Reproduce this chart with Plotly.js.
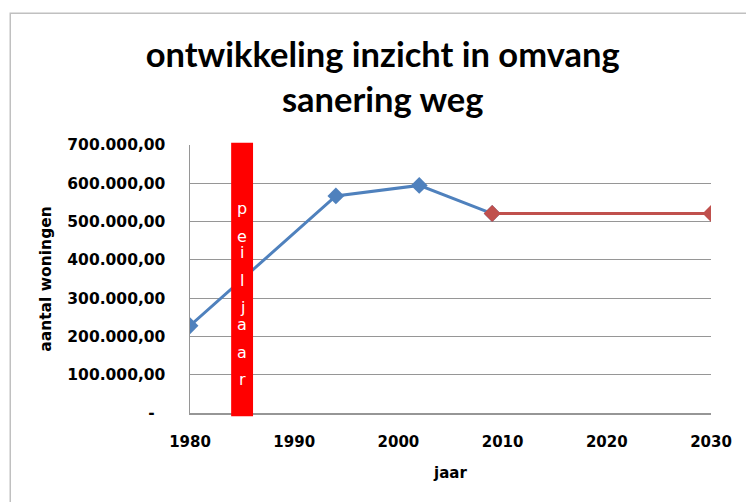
<!DOCTYPE html>
<html>
<head>
<meta charset="utf-8">
<script src="https://cdn.plot.ly/plotly-3.0.1.min.js"></script>
<style>
  body { margin: 0; background: #fff; }
  #chart { width: 746px; height: 502px; }
</style>
</head>
<body>
<div id="chart"></div>
<script>
// gemeten reeks (blauw) en prognose (rood)
var jarenGemeten = [1980, 1994, 2002, 2009];
var woningenGemeten = [228000, 567000, 594500, 521000];

var jarenPrognose = [2009, 2030];
var woningenPrognose = [521000, 521000];

var peiljaar = 1985;
var peilTekst = "peiljaar";

var yTicks = [0, 100000, 200000, 300000, 400000, 500000, 600000, 700000];
var yTickText = ["-\u00a0\u00a0", "100.000,00", "200.000,00", "300.000,00",
                 "400.000,00", "500.000,00", "600.000,00", "700.000,00"];

var gemeten = {
  x: jarenGemeten,
  y: woningenGemeten,
  type: "scatter",
  mode: "lines+markers",
  line: {color: "#4F81BD", width: 3},
  marker: {symbol: "diamond", size: 13, color: "#4F81BD"},
  hoverinfo: "x+y"
};

var prognose = {
  x: jarenPrognose,
  y: woningenPrognose,
  type: "scatter",
  mode: "lines+markers",
  line: {color: "#C0504D", width: 3},
  marker: {symbol: "diamond", size: 13, color: "#C0504D"},
  hoverinfo: "x+y"
};

// letters van "peiljaar" onder elkaar in de rode balk
var letters = peilTekst.split("").map(function (ch, i) {
  return {
    x: peiljaar, xref: "x",
    y: 0.806 - i * 0.103, yref: "paper",
    text: ch, showarrow: false,
    height: 20, borderpad: 0,
    font: {family: "DejaVu Sans", size: 16, color: "#ffffff"}
  };
});

var layout = {
  width: 746,
  height: 502,
  margin: {l: 190, r: 35, t: 145, b: 89},
  paper_bgcolor: "#ffffff",
  plot_bgcolor: "#ffffff",
  showlegend: false,
  title: {
    text: "ontwikkeling inzicht in omvang<br>sanering weg",
    font: {family: "Lato", size: 34.5, color: "#000000", weight: "bold"},
    x: 0.513, xanchor: "center",
    y: 0.866, yanchor: "top"
  },
  xaxis: {
    range: [1980, 2030],
    tickvals: [1980, 1990, 2000, 2010, 2020, 2030],
    showgrid: false,
    zeroline: false,
    showline: true,
    linecolor: "#969696",
    linewidth: 1.5,
    ticks: "outside",
    ticklen: 14,
    tickcolor: "rgba(0,0,0,0)",
    tickfont: {family: "DejaVu Sans", size: 15, color: "#000000", weight: "bold"},
    title: {
      text: "jaar",
      font: {family: "DejaVu Sans", size: 15, color: "#000000", weight: "bold"},
      standoff: 18
    }
  },
  yaxis: {
    range: [0, 700000],
    tickvals: yTicks,
    ticktext: yTickText,
    showgrid: true,
    gridcolor: "#969696",
    gridwidth: 1,
    zeroline: false,
    showline: true,
    linecolor: "#969696",
    linewidth: 1.5,
    ticks: "outside",
    ticklen: 20,
    tickcolor: "rgba(0,0,0,0)",
    tickfont: {family: "DejaVu Sans", size: 15.5, color: "#000000", weight: "bold"},
    title: {
      text: "aantal woningen",
      font: {family: "DejaVu Sans", size: 15.5, color: "#000000", weight: "bold"},
      standoff: 12
    }
  },
  shapes: [
    // kader om de grafiek
    {type: "rect", xref: "paper", yref: "paper",
     x0: -0.345, x1: 1.2, y0: -0.5, y1: 1.492,
     line: {color: "#c0c0c0", width: 1.5}, fillcolor: "rgba(0,0,0,0)", layer: "below"},
    // rode peiljaar-balk
    {type: "rect", xref: "x", yref: "paper",
     x0: peiljaar - 1.05, x1: peiljaar + 1.05, y0: -0.012, y1: 1.008,
     line: {width: 0}, fillcolor: "#FF0000", layer: "above"}
  ],
  annotations: letters
};

Plotly.newPlot("chart", [gemeten, prognose], layout, {displayModeBar: false, staticPlot: true});
</script>
</body>
</html>
